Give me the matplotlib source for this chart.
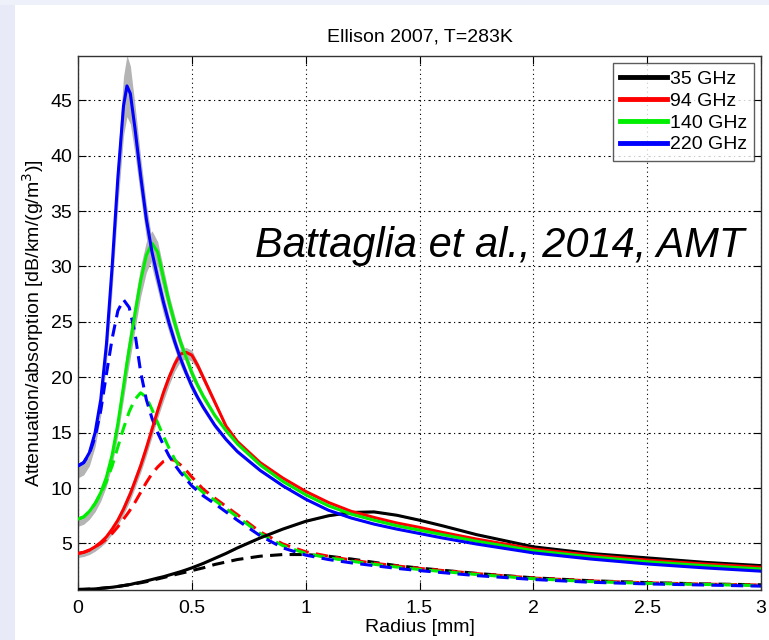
import numpy as np
import matplotlib.pyplot as plt
from matplotlib.patches import Rectangle

plt.rcParams['font.family'] = ['Liberation Sans', 'DejaVu Sans']

# radius grid [mm] for the solid (attenuation) curves
radius = [0, 0.025, 0.05, 0.075, 0.1, 0.125, 0.15, 0.175, 0.2, 0.215, 0.23, 0.25, 0.275,
          0.3, 0.325, 0.35, 0.375, 0.4, 0.425, 0.45, 0.475, 0.5, 0.525, 0.55, 0.6, 0.65,
          0.7, 0.8, 0.9, 1.0, 1.1, 1.2, 1.3, 1.4, 1.5, 1.6, 1.75, 2.0, 2.25, 2.5, 2.75, 3.0]

att_35 = [0.85, 0.86, 0.88, 0.9, 0.95, 1.0, 1.05, 1.12, 1.2, 1.25, 1.3, 1.4, 1.5,
          1.62, 1.75, 1.88, 2.0, 2.15, 2.3, 2.45, 2.62, 2.8, 3.0, 3.2, 3.65, 4.1,
          4.6, 5.5, 6.3, 7.0, 7.5, 7.8, 7.85, 7.55, 7.1, 6.6, 5.8, 4.7, 4.1, 3.7, 3.3, 3.0]
att_94 = [4.1, 4.2, 4.4, 4.7, 5.1, 5.6, 6.3, 7.1, 8.1, 8.8, 9.5, 10.6, 12.0,
          13.6, 15.3, 17.0, 18.6, 20.0, 21.2, 22.1, 22.25, 22.0, 21.1, 20.0, 17.8, 15.6,
          14.2, 12.3, 10.9, 9.7, 8.7, 7.9, 7.35, 6.85, 6.45, 6.0, 5.4, 4.5, 3.95, 3.5, 3.15, 2.85]
att_140 = [7.2, 7.4, 7.9, 8.6, 9.6, 11.0, 13.0, 15.8, 19.2, 21.3, 23.2, 25.7, 28.7,
           31.0, 32.1, 31.3, 29.0, 26.8, 24.9, 23.2, 21.8, 20.4, 19.3, 18.3, 16.6, 15.2,
           14.0, 12.1, 10.6, 9.4, 8.4, 7.65, 7.1, 6.6, 6.2, 5.8, 5.2, 4.35, 3.8, 3.35, 3.0, 2.7]
att_220 = [12.0, 12.3, 13.2, 15.0, 18.0, 23.0, 30.0, 38.0, 44.5, 46.3, 45.6, 42.5, 38.2,
           34.3, 31.3, 29.0, 26.8, 24.9, 23.2, 21.7, 20.4, 19.2, 18.2, 17.3, 15.7, 14.4,
           13.3, 11.6, 10.2, 9.0, 8.0, 7.3, 6.75, 6.3, 5.9, 5.5, 4.95, 4.15, 3.6, 3.15, 2.8, 2.5]

# relative spread of the grey uncertainty band (below / above the solid curves)
band_lo = [0.09, 0.09, 0.09, 0.085, 0.08, 0.075, 0.07, 0.065, 0.06, 0.06, 0.06, 0.055, 0.05,
           0.05, 0.045, 0.04, 0.04, 0.035, 0.03, 0.03, 0.025, 0.025, 0.02, 0.02, 0.02, 0.015,
           0.015, 0.015, 0.01, 0.01, 0.01, 0.01, 0.01, 0.01, 0.01, 0.005, 0.005, 0.005, 0.005,
           0.005, 0.005, 0.005]
band_hi = [0.02, 0.02, 0.02, 0.025, 0.03, 0.035, 0.04, 0.05, 0.06, 0.06, 0.055, 0.05, 0.045,
           0.04, 0.035, 0.03, 0.03, 0.025, 0.025, 0.02, 0.02, 0.02, 0.015, 0.015, 0.01, 0.01,
           0.01, 0.01, 0.01, 0.01, 0.01, 0.01, 0.01, 0.01, 0.01, 0.005, 0.005, 0.005, 0.005,
           0.005, 0.005, 0.005]

# radius grid for dashed (absorption) curves
radius_abs = [0, 0.025, 0.05, 0.075, 0.1, 0.125, 0.15, 0.175, 0.2, 0.225, 0.25, 0.275,
              0.3, 0.325, 0.35, 0.375, 0.4, 0.425, 0.45, 0.475, 0.5, 0.55, 0.6, 0.7,
              0.8, 0.9, 1.0, 1.1, 1.2, 1.3, 1.4, 1.5, 1.75, 2.0, 2.25, 2.5, 2.75, 3.0]

abs_35 = [0.85, 0.86, 0.88, 0.9, 0.95, 1.0, 1.05, 1.12, 1.2, 1.28, 1.36, 1.45,
          1.55, 1.67, 1.8, 1.92, 2.05, 2.18, 2.3, 2.42, 2.55, 2.8, 3.1, 3.55,
          3.85, 4.0, 4.0, 3.85, 3.6, 3.3, 3.0, 2.78, 2.3, 1.9, 1.64, 1.47, 1.35, 1.27]
abs_94 = [4.1, 4.2, 4.4, 4.7, 5.0, 5.4, 5.9, 6.5, 7.2, 7.9, 8.7, 9.6,
          10.5, 11.3, 11.9, 12.4, 12.6, 12.5, 12.1, 11.6, 11.0, 9.9, 9.1, 7.6,
          6.05, 4.95, 4.25, 3.85, 3.5, 3.22, 2.97, 2.75, 2.28, 1.88, 1.62, 1.45, 1.33, 1.25]
abs_140 = [7.2, 7.4, 7.9, 8.6, 9.5, 10.6, 12.0, 13.7, 15.4, 16.9, 18.0, 18.6,
           18.2, 17.1, 15.9, 14.7, 13.6, 12.6, 11.8, 11.1, 10.5, 9.6, 8.9, 7.4,
           5.9, 4.8, 4.1, 3.7, 3.4, 3.12, 2.87, 2.65, 2.2, 1.82, 1.56, 1.4, 1.3, 1.2]
abs_220 = [12.0, 12.3, 13.1, 14.6, 17.0, 20.3, 23.5, 26.0, 27.0, 26.3, 24.0, 20.5,
           18.0, 16.3, 15.0, 13.9, 12.9, 12.1, 11.4, 10.8, 10.2, 9.3, 8.6, 7.1,
           5.7, 4.6, 3.95, 3.55, 3.25, 3.0, 2.75, 2.55, 2.1, 1.75, 1.5, 1.35, 1.25, 1.15]

labels = ['35 GHz', '94 GHz', '140 GHz', '220 GHz']
colors = ['black', '#ff0000', '#00ee00', '#0000ff']
att = [att_35, att_94, att_140, att_220]
absn = [abs_35, abs_94, abs_140, abs_220]

fig = plt.figure(figsize=(7.69, 6.40), dpi=100, facecolor='white')
# lavender slide border on the left and top
fig.patches.append(Rectangle((0, 0), 15 / 769, 1, transform=fig.transFigure,
                             facecolor='#e8eaf8', edgecolor='none', zorder=-10))
fig.patches.append(Rectangle((0, 635 / 640), 1, 5 / 640, transform=fig.transFigure,
                             facecolor='#eef0fa', edgecolor='none', zorder=-10))
ax = fig.add_axes([78 / 769, 50 / 640, 683 / 769, 534 / 640])

r = np.array(radius)
for a in att:
    a = np.array(a)
    ax.fill_between(r, a * (1 - np.array(band_lo)), a * (1 + np.array(band_hi)),
                    color='#b4b4b4', lw=0, zorder=1)

handles = []
for a, c, lab in zip(att, colors, labels):
    h, = ax.plot(radius, a, color=c, lw=2.2, zorder=3, label=lab)
    handles.append(h)
for b, c in zip(absn, colors):
    ax.plot(radius_abs, b, color=c, lw=2.2, ls=(0, (4, 2.4)), zorder=2)

ax.set_xlim(0, 3)
ax.set_ylim(0.8, 49)
ax.set_xticks([0, 0.5, 1, 1.5, 2, 2.5, 3])
ax.set_xticklabels(['0', '0.5', '1', '1.5', '2', '2.5', '3'])
ax.set_yticks([5, 10, 15, 20, 25, 30, 35, 40, 45])
ax.tick_params(direction='in', length=6, width=0.8, top=True, right=True, labelsize=14)
ax.tick_params(axis='x', pad=7)
ax.tick_params(axis='y', pad=4)
for s in ax.spines.values():
    s.set_linewidth(1.0)
    s.set_color('#333333')
ax.yaxis.grid(True, color='black', lw=0.8, ls=(0, (2, 3, 1, 3)))
ax.xaxis.grid(True, color='black', lw=0.8, ls=(0, (1, 3)))
ax.set_axisbelow(True)

ax.set_title('Ellison 2007, T=283K', fontsize=14, pad=10.5)
ax.set_xlabel('Radius [mm]', fontsize=14, labelpad=2)
ax.set_ylabel('Attenuation/absorption [dB/km/(g/m$^3$)]', fontsize=14, labelpad=3)

leg = ax.legend(handles=handles, loc='upper right', fontsize=14, frameon=True,
                fancybox=False, edgecolor='#333333', handlelength=2.4,
                handletextpad=0.15, labelspacing=0.22, borderpad=0.38,
                borderaxespad=0.35)
leg.get_frame().set_linewidth(1.0)
for lh in leg.get_lines():
    lh.set_linewidth(3.5)

fig.text(255 / 769, (640 - 257.5) / 640, 'Battaglia et al., 2014, AMT',
         fontsize=30, style='italic', ha='left', va='baseline', color='black')

fig.savefig('out.png', dpi=100, facecolor=fig.get_facecolor())
